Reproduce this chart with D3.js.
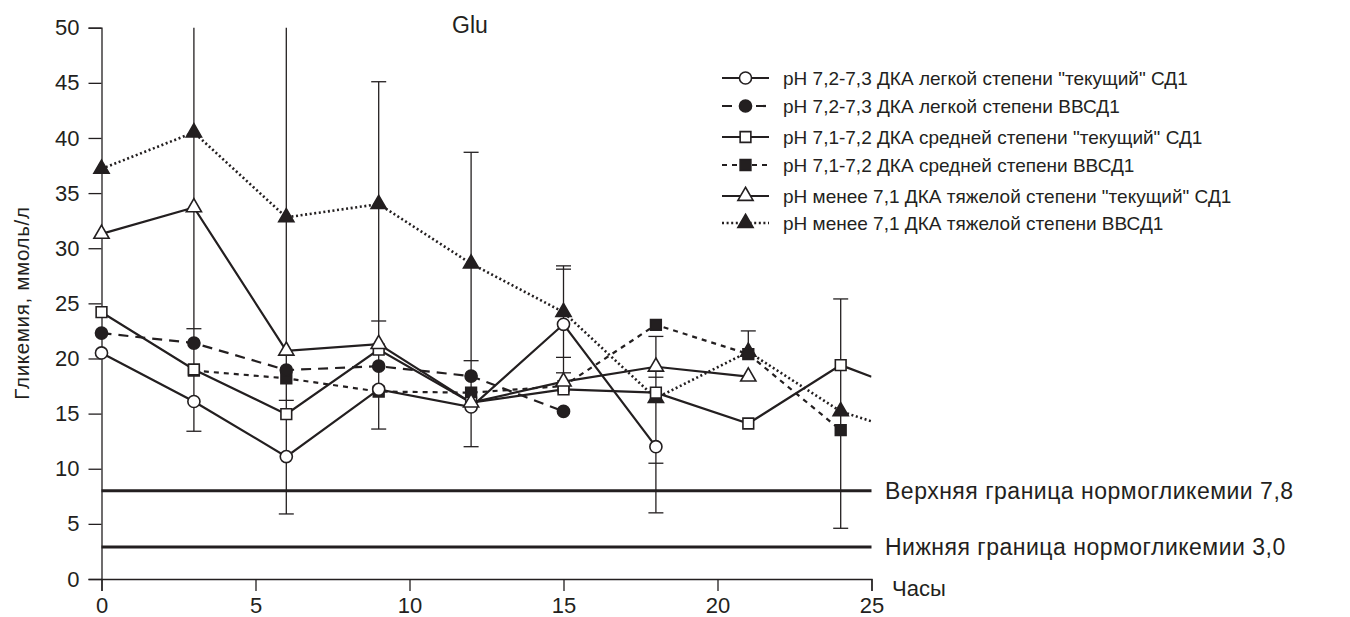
<!DOCTYPE html>
<html>
<head>
<meta charset="utf-8">
<script src="https://cdn.jsdelivr.net/npm/d3@7"></script>
<style>
  body { margin: 0; background: #fff; }
  svg text { font-family: "Liberation Sans", Arial, sans-serif; fill: #231f20; }
</style>
</head>
<body>
<div id="container"></div>
<script>
// hours of measurement
const hours = [0, 3, 6, 9, 12, 15, 18, 21, 24];

// glycemia means, mmol/l (null = no measurement)
const mildCurrent   = [20.5, 16.1, 11.1, 17.2, 15.6, 23.1, 12.0, null, null];
const mildNew       = [22.3, 21.4, 18.95, 19.3, 18.4, 15.2, null, null, null];
const modCurrent    = [24.2, 19.0, 14.95, 20.8, 16.0, 17.2, 16.9, 14.1, 19.4];
const modNew        = [null, 18.9, 18.2, 17.0, 16.9, 17.5, 23.05, 20.4, 13.5];
const severeCurrent = [31.3, 33.7, 20.7, 21.3, 16.0, 17.9, 19.25, 18.35, null];
const severeNew     = [37.2, 40.5, 32.8, 34.0, 28.6, 24.2, 16.4, 20.6, 15.2];

// lines leave the plot at 25 h
const tailHour = 25;
const modCurrentTail = 18.35;
const severeNewTail = 14.3;

// error bars: stems [hour, low, high] and caps [hour, value]
const stems = [[3, 13.4, 62], [6, 5.9, 62], [9, 13.6, 45.1], [12, 12.0, 38.7],
               [15, 17.9, 28.4], [18, 6.0, 22.0], [21, 20.4, 22.5], [24, 4.6, 25.4]];
const caps = [[3, 22.7], [3, 13.4], [6, 16.2], [6, 5.9],
              [9, 45.1], [9, 23.4], [9, 13.6], [12, 38.7], [12, 19.8], [12, 12.0],
              [15, 28.4], [15, 28.1], [15, 20.1], [15, 18.7],
              [18, 22.0], [18, 18.3], [18, 10.5], [18, 6.0], [21, 22.5], [24, 25.4], [24, 4.6]];

// normoglycemia bounds
const normLevels = [8.0, 2.9];
const normLabels = ["Верхняя граница нормогликемии 7,8", "Нижняя граница нормогликемии 3,0"];

const xTicks = [0, 5, 10, 15, 20, 25];
const yTicks = [0, 5, 10, 15, 20, 25, 30, 35, 40, 45, 50];

const series = [
  { name: "pH 7,2-7,3 ДКА легкой степени \"текущий\" СД1", values: mildCurrent, shape: "circle", filled: false, dash: null, z: 3 },
  { name: "pH 7,2-7,3 ДКА легкой степени ВВСД1", values: mildNew, shape: "circle", filled: true, dash: "10,7", z: 5 },
  { name: "pH 7,1-7,2 ДКА средней степени \"текущий\" СД1", values: modCurrent, tail: modCurrentTail, shape: "square", filled: false, dash: null, z: 2 },
  { name: "pH 7,1-7,2 ДКА средней степени ВВСД1", values: modNew, shape: "square", filled: true, dash: "5,5", z: 1 },
  { name: "pH менее 7,1 ДКА тяжелой степени \"текущий\" СД1", values: severeCurrent, shape: "triangle", filled: false, dash: null, z: 4 },
  { name: "pH менее 7,1 ДКА тяжелой степени ВВСД1", values: severeNew, tail: severeNewTail, shape: "triangle", filled: true, dash: "2,2.6", z: 0 }
];

const W = 1350, H = 617;
const svg = d3.select("#container").append("svg")
    .attr("width", W)
    .attr("height", H);

const x = d3.scaleLinear().domain([0, 25]).range([101.5, 871.5]);
const y = d3.scaleLinear().domain([0, 50]).range([579, 27.7]);
const ink = "#231f20";

svg.append("clipPath").attr("id", "plot")
  .append("rect")
    .attr("x", x(0)).attr("y", y(50))
    .attr("width", x(25) - x(0)).attr("height", y(0) - y(50));

// axes
const yAxis = svg.append("g")
    .attr("transform", `translate(${x(0)},0)`)
    .call(d3.axisLeft(y).tickValues(yTicks).tickSize(13).tickPadding(9));
const xAxis = svg.append("g")
    .attr("transform", `translate(0,${y(0)})`)
    .call(d3.axisBottom(x).tickValues(xTicks).tickSize(12).tickPadding(6));
[xAxis, yAxis].forEach(a => {
  a.select(".domain").attr("stroke", ink).attr("stroke-width", 1.3);
  a.selectAll(".tick line").attr("stroke", ink).attr("stroke-width", 1.3);
  a.selectAll(".tick text").attr("font-size", 22).attr("fill", ink)
    .style("font-family", "'Liberation Sans', Arial, sans-serif");
});

// normoglycemia lines
svg.selectAll(".norm")
  .data(normLevels)
  .enter().append("line")
    .attr("x1", x(0)).attr("x2", x(25))
    .attr("y1", d => y(d)).attr("y2", d => y(d))
    .attr("stroke", ink).attr("stroke-width", 3);

svg.selectAll(".norm-label")
  .data(normLevels)
  .enter().append("text")
    .attr("x", 885)
    .attr("y", d => y(d))
    .attr("dy", "0.35em")
    .attr("font-size", 23)
    .attr("letter-spacing", 0.5)
    .text((d, i) => normLabels[i]);

const plot = svg.append("g").attr("clip-path", "url(#plot)");

// error bars
plot.selectAll(".stem")
  .data(stems)
  .enter().append("line")
    .attr("x1", d => x(d[0])).attr("x2", d => x(d[0]))
    .attr("y1", d => y(d[1])).attr("y2", d => y(d[2]))
    .attr("stroke", ink).attr("stroke-width", 1.3);

svg.selectAll(".cap")
  .data(caps)
  .enter().append("line")
    .attr("x1", d => x(d[0]) - 7.5).attr("x2", d => x(d[0]) + 7.5)
    .attr("y1", d => y(d[1])).attr("y2", d => y(d[1]))
    .attr("stroke", ink).attr("stroke-width", 1.3);

// series lines
const line = d3.line()
    .defined(d => d.v != null)
    .x(d => x(d.t))
    .y(d => y(d.v));

series.forEach(s => {
  const pts = hours.map((t, i) => ({ t: t, v: s.values[i] }));
  if (s.tail != null) pts.push({ t: tailHour, v: s.tail });
  plot.append("path")
    .datum(pts)
    .attr("fill", "none")
    .attr("stroke", ink)
    .attr("stroke-width", s.dash === "2,2.6" ? 2.6 : 2.2)
    .attr("stroke-dasharray", s.dash)
    .attr("d", line);
});

// markers
const symbolType = { circle: d3.symbolCircle, square: d3.symbolSquare, triangle: d3.symbolTriangle };
const symbolSize = { circle: 115, square: 115, triangle: 100 };

function drawMarker(g, s, cx, cy) {
  g.append("path")
    .attr("transform", `translate(${cx},${cy})`)
    .attr("d", d3.symbol().type(symbolType[s.shape]).size(symbolSize[s.shape])())
    .attr("fill", s.filled ? ink : "#fff")
    .attr("stroke", ink)
    .attr("stroke-width", 1.6);
}

series.slice().sort((a, b) => a.z - b.z).forEach(s => {
  hours.forEach((t, i) => {
    if (s.values[i] != null) drawMarker(svg, s, x(t), y(s.values[i]));
  });
});

// title
svg.append("text")
    .attr("x", 452).attr("y", 25).attr("dy", "0.35em")
    .attr("font-size", 23)
    .text("Glu");

// axis titles
svg.append("text")
    .attr("transform", "translate(22,303) rotate(-90)")
    .attr("text-anchor", "middle")
    .attr("dy", "0.35em")
    .attr("font-size", 20.5)
    .attr("letter-spacing", 0.7)
    .text("Гликемия, ммоль/л");

svg.append("text")
    .attr("x", 892).attr("y", 588).attr("dy", "0.35em")
    .attr("font-size", 22)
    .text("Часы");

// legend
const rowY = [78, 106, 137, 165, 196, 223];
const legend = svg.append("g");
series.forEach((s, i) => {
  const ly = rowY[i];
  legend.append("line")
    .attr("x1", 722).attr("x2", 769)
    .attr("y1", ly).attr("y2", ly)
    .attr("stroke", ink)
    .attr("stroke-width", s.dash === "2,2.6" ? 2.6 : 2.2)
    .attr("stroke-dasharray", s.dash);
  drawMarker(legend, s, 745.5, ly);
  legend.append("text")
    .attr("x", 783).attr("y", ly).attr("dy", "0.35em")
    .attr("font-size", 19)
    .text(s.name);
});
</script>
</body>
</html>
